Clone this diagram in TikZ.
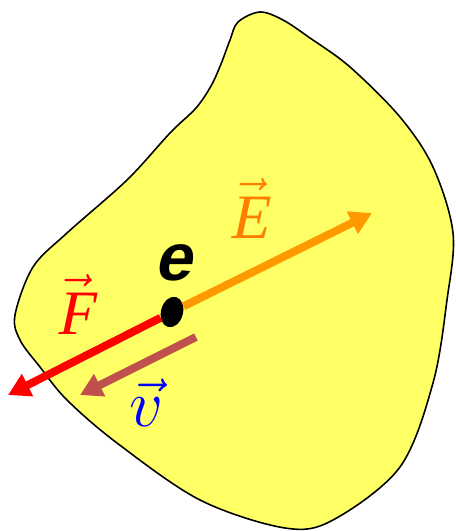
\RequirePackage{fix-cm}
\documentclass[tikz,border=0pt]{standalone}
\usepackage{fontspec}
\usepackage{xcolor}
\usepackage{tikz}
\usetikzlibrary{shapes.geometric,arrows.meta,positioning}

\definecolor{blobyellow}{RGB}{255,255,102}
\definecolor{fieldorange}{RGB}{255,153,0}
\definecolor{labelorange}{RGB}{255,128,0}
\definecolor{speedbrown}{RGB}{192,80,77}

\newfontfamily\chargefont{Liberation Sans Bold}[FakeSlant=0.21]
\newfontfamily\letterfont{Liberation Serif}[FakeSlant=0.21]
\newcommand{\vecletter}[1]{$\vec{\hbox{\letterfont #1}}$}

\begin{document}
\begin{tikzpicture}[
    x=0.02cm, y=-0.02cm,
    blob/.style={draw=black, line width=0.9pt, fill=blobyellow},
    charge/.style={ellipse, fill=black, minimum width=0.44cm, minimum height=0.62cm, inner sep=0pt},
    vecarrow/.style={line width=4.5pt, -{Triangle[length=12.5pt,width=13.5pt]}},
    veclabel/.style={font=\fontsize{36}{42}\selectfont, inner sep=0pt, anchor=base}
]
\useasboundingbox (0,0) rectangle (456,531);

% the region with the field
\draw[blob] plot[smooth cycle, tension=0.55] coordinates {
    (260,12) (238,22) (230,40) (221,64) (211,86) (196,108) (170,133)
    (127,180) (67,233) (33,267)
    (15,315) (20,340) (40,367) (67,400) (117,443) (200,500) (285,528)
    (333,520) (400,467) (433,383) (447,300) (453,233) (433,167)
    (400,117) (350,67) (310,38) (283,20)};

% charge and arrow ends
\node[charge, rotate=-15] (dot) at (172,312) {};
\coordinate (etip) at (372,213);
\coordinate (ftip) at (8,395);
\coordinate (vstart) at (196,337);
\coordinate (vtip) at (80,395);

\draw[vecarrow, fieldorange] (dot) -- (etip);
\draw[vecarrow, red] (dot) -- (ftip);
\draw[vecarrow, speedbrown] (vstart) -- (vtip);

% labels
\node[veclabel, labelorange] (elabel) at (249,238) {\vecletter{E}};
\node[veclabel, red] (flabel) at (74,334) {\vecletter{F}};
\node[veclabel, blue, font=\fontsize{38}{44}\selectfont] (vlabel) at (146,426) {$\vec{v}$};
\node[font=\chargefont\fontsize{38}{44}\selectfont, inner sep=0pt, anchor=base] (ename) at (173,280) {e};

\end{tikzpicture}
\end{document}
